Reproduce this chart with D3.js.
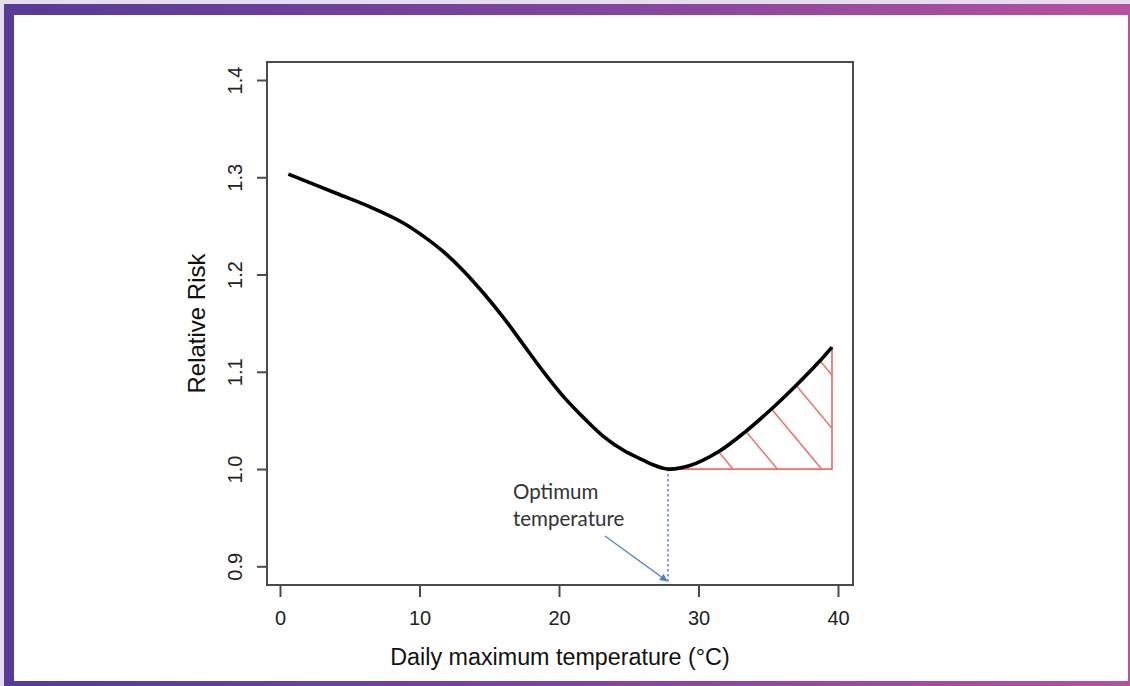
<!DOCTYPE html>
<html>
<head>
<meta charset="utf-8">
<script src="https://cdn.jsdelivr.net/npm/d3@7"></script>
<style>
  html, body { margin: 0; padding: 0; background: #fff; }
  svg { display: block; }
</style>
</head>
<body>
<svg id="chart" width="1130" height="686"></svg>
<script>
// ---- data ----
const temperature = [0.6, 4.07, 6.45, 8.84, 10.27, 11.71, 13.14, 14.55, 15.99, 17.42, 18.85, 20.29, 21.72, 23.15, 24.59, 26.02, 26.88, 27.81, 29.39, 31.4, 33.33, 35.27, 36.92, 38.49, 39.57];
const relativeRisk = [1.3032, 1.2833, 1.2695, 1.2530, 1.2395, 1.2235, 1.2040, 1.1815, 1.1562, 1.1285, 1.1007, 1.075, 1.0534, 1.0339, 1.0195, 1.0092, 1.0036, 1.0, 1.0036, 1.0175, 1.038, 1.0622, 1.0848, 1.1079, 1.1254];
const xTicks = [0, 10, 20, 30, 40];
const yTicks = [0.9, 1.0, 1.1, 1.2, 1.3, 1.4];
const optimumTemp = 27.81;
const baselineRisk = 1.0;
const xTitle = "Daily maximum temperature (\u00B0C)";
const yTitle = "Relative Risk";
const noteLines = ["Optimum", "temperature"];

const svg = d3.select("#chart");
const W = 1130, H = 686;

// ---- frame with gradient border ----
const defs = svg.append("defs");
const grad = defs.append("linearGradient").attr("id", "bord").attr("x1", "0").attr("x2", "1").attr("y1", "0").attr("y2", "0");
grad.append("stop").attr("offset", "0%").attr("stop-color", "#573b97");
grad.append("stop").attr("offset", "50%").attr("stop-color", "#7f449f");
grad.append("stop").attr("offset", "100%").attr("stop-color", "#b8509e");
svg.append("rect").attr("x", 0).attr("y", 0).attr("width", W).attr("height", H).attr("fill", "#e6dcef");
svg.append("rect").attr("x", 4).attr("y", 4).attr("width", W - 4).attr("height", H - 4).attr("fill", "url(#bord)");
svg.append("rect").attr("x", 14).attr("y", 15).attr("width", 1128 - 14).attr("height", 681 - 15).attr("fill", "#fff");

// ---- scales ----
const x = d3.scaleLinear().domain([0, 40]).range([280, 838]);
const y = d3.scaleLinear().domain([0.9, 1.4]).range([566.3, 80]);
const box = { left: 267, right: 853, top: 62, bottom: 585 };

const pts = temperature.map((t, i) => ({ t, r: relativeRisk[i] }));
const curve = d3.curveCatmullRom.alpha(0.5);

// ---- hatched area (heat risk above optimum) ----
const hot = pts.filter(d => d.t >= optimumTemp);
const area = d3.area().x(d => x(d.t)).y0(y(baselineRisk)).y1(d => y(d.r)).curve(curve);
defs.append("clipPath").attr("id", "hotclip").append("path").attr("d", area(hot));
const hatchG = svg.append("g").attr("clip-path", "url(#hotclip)");
const y0px = y(baselineRisk);
const spacing = 44.3, slope = 1.2;
for (let k = -2; k < 8; k++) {
  const xb = 733 + spacing * k;
  hatchG.append("line")
    .attr("x1", xb).attr("y1", y0px)
    .attr("x2", xb - 200 / slope).attr("y2", y0px - 200)
    .attr("stroke", "#ef6e6e").attr("stroke-width", 1.5);
}
const last = hot[hot.length - 1];
svg.append("path")
  .attr("d", d3.line()([[x(optimumTemp), y0px], [x(last.t), y0px], [x(last.t), y(last.r)]]))
  .attr("fill", "none").attr("stroke", "#ef6e6e").attr("stroke-width", 1.7);

// ---- dotted vertical at optimum ----
svg.append("line")
  .attr("x1", x(optimumTemp)).attr("x2", x(optimumTemp))
  .attr("y1", y0px).attr("y2", box.bottom - 2)
  .attr("stroke", "#5b8ed6").attr("stroke-width", 1.6).attr("stroke-dasharray", "2.5,2.5");

// ---- curve ----
svg.append("path")
  .attr("d", d3.line().x(d => x(d.t)).y(d => y(d.r)).curve(curve)(pts))
  .attr("fill", "none").attr("stroke", "#000").attr("stroke-width", 3.6)
  .attr("stroke-linecap", "butt");

// ---- plot box ----
svg.append("rect")
  .attr("x", box.left).attr("y", box.top)
  .attr("width", box.right - box.left).attr("height", box.bottom - box.top)
  .attr("fill", "none").attr("stroke", "#4a4a4a").attr("stroke-width", 2);

// ---- axes ----
const axisFont = "'Liberation Sans', Arial, sans-serif";
const xAxis = svg.append("g").attr("transform", `translate(0,${box.bottom})`)
  .call(d3.axisBottom(x).tickValues(xTicks).tickSize(12).tickSizeOuter(0).tickPadding(14).tickFormat(d3.format("d")));
xAxis.select(".domain").remove();
xAxis.selectAll(".tick line").attr("stroke", "#4a4a4a").attr("stroke-width", 2);
xAxis.selectAll(".tick text").attr("font-family", axisFont).attr("font-size", 20).attr("fill", "#222");

const yAxis = svg.append("g").attr("transform", `translate(${box.left},0)`)
  .call(d3.axisLeft(y).tickValues(yTicks).tickSize(10).tickSizeOuter(0).tickFormat(d3.format(".1f")));
yAxis.select(".domain").remove();
yAxis.selectAll(".tick line").attr("stroke", "#4a4a4a").attr("stroke-width", 2);
yAxis.selectAll(".tick text")
  .attr("font-family", axisFont).attr("font-size", 20).attr("fill", "#222")
  .attr("x", null).attr("dy", null)
  .attr("text-anchor", "middle")
  .attr("transform", "translate(-25,0) rotate(-90)");

// ---- axis titles ----
svg.append("text").attr("x", (box.left + box.right) / 2).attr("y", 665)
  .attr("text-anchor", "middle").attr("font-family", axisFont)
  .attr("font-size", 23.3).attr("fill", "#111").text(xTitle);
svg.append("text").attr("transform", `translate(205,${(box.top + box.bottom) / 2}) rotate(-90)`)
  .attr("text-anchor", "middle").attr("font-family", axisFont)
  .attr("font-size", 24).attr("fill", "#111").text(yTitle);

// ---- annotation ----
const note = svg.append("text").attr("font-family", "Lato, 'Open Sans', sans-serif")
  .attr("font-size", 20.5).attr("fill", "#333");
note.selectAll("tspan").data(noteLines).join("tspan")
  .attr("x", 513).attr("y", (d, i) => 499 + i * 27).text(d => d);

defs.append("marker").attr("id", "arr").attr("viewBox", "0 0 10 10").attr("refX", 9).attr("refY", 5)
  .attr("markerWidth", 6).attr("markerHeight", 6).attr("orient", "auto")
  .append("path").attr("d", "M0,0 L10,5 L0,10 z").attr("fill", "#4f7fbf");
svg.append("line").attr("x1", 605).attr("y1", 536).attr("x2", x(optimumTemp) - 1).attr("y2", 581)
  .attr("stroke", "#4f7fbf").attr("stroke-width", 1.3).attr("marker-end", "url(#arr)");
</script>
</body>
</html>
